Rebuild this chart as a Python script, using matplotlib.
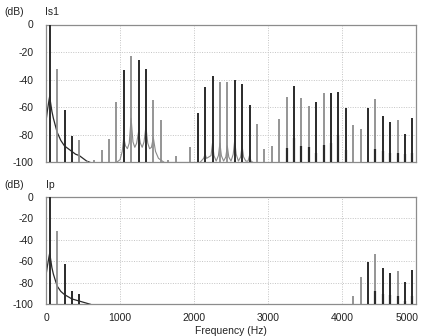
import matplotlib
matplotlib.use("Agg")
import matplotlib.pyplot as plt
from matplotlib.transforms import ScaledTranslation

# ---------------- data ----------------
# Is1 spectrum: harmonic lines (Hz, dB)
is1_dark_f = [50, 250, 350, 1050, 1250, 1350, 2050, 2150, 2250, 2550, 2650, 2750,
              3350, 3650, 3850, 3950, 4050, 4350, 4550, 4650, 4850, 4950]
is1_dark_db = [0, -62, -81, -33, -26, -32, -64, -45, -37, -40.5, -43, -58,
               -44.5, -56.5, -50, -49, -60.5, -60.5, -66.5, -71, -79, -68]
is1_gray_f = [150, 450, 550, 650, 750, 850, 950, 1150, 1450, 1550, 1650, 1750, 1950,
              2350, 2450, 2850, 2950, 3050, 3150, 3250, 3450, 3550, 3750, 4150, 4250,
              4450, 4750]
is1_gray_db = [-32, -84, -99, -98, -91, -83, -56, -23, -55, -69, -98, -95, -89,
               -41.5, -42, -72, -90, -88, -68.5, -52.5, -53, -59, -50, -73, -76,
               -54, -69.5]
# Is1 continuous spectrum (leakage floor)
is1_low_f = [0, 20, 40, 50, 60, 80, 100, 150, 200, 250, 300, 350, 400, 450, 500, 550, 600]
is1_low_db = [-70, -62, -55, -52, -56, -63, -68, -78, -84, -88, -90, -92, -94, -95, -97, -99, -100]
is1_side_f = [950, 1000, 1030, 1050, 1075, 1100, 1125, 1150, 1175, 1200, 1225, 1250, 1275,
              1300, 1325, 1350, 1375, 1400, 1425, 1450, 1480, 1520, 1600,
              2080, 2130, 2150, 2170, 2230, 2250, 2270, 2300, 2330, 2350, 2370, 2400,
              2430, 2450, 2470, 2500, 2530, 2550, 2570, 2600, 2630, 2650, 2670, 2700,
              2730, 2750, 2770, 2800]
is1_side_db = [-100, -98, -92, -82, -88, -90, -86, -68, -85, -89, -86, -78, -86,
               -89, -85, -74, -86, -90, -89, -82, -92, -97, -100,
               -100, -97, -94, -97, -95, -86, -95, -99, -95, -86, -95, -99,
               -96, -88, -96, -99, -94, -84, -94, -99, -96, -88, -96, -99,
               -99, -95, -99, -100]
# Is1 short stubs at the base of the upper harmonics
is1_stub_f = [3250, 3350, 3450, 3550, 3650, 3750, 3850, 3950, 4050,
              4450, 4550, 4650, 4750, 4850, 4950]
is1_stub_db = [-89.5, -82, -88, -89, -93, -87, -86, -80, -91,
               -90, -92, -93, -93, -94, -93]

# Ip spectrum
ip_dark_f = [50, 250, 350, 450, 4350, 4550, 4650, 4850, 4950]
ip_dark_db = [0, -63, -88, -90.5, -60.5, -66.5, -71, -79, -68]
ip_gray_f = [150, 4150, 4250, 4450, 4750]
ip_gray_db = [-32, -92, -74.5, -53.5, -69.5]
ip_low_f = [0, 20, 40, 50, 60, 80, 100, 150, 200, 250, 300, 350, 400, 450, 500, 550, 600]
ip_low_db = [-73, -64, -56, -52.5, -57, -66, -72, -83, -88, -91, -93, -95, -96, -97, -98, -99, -100]
ip_stub_f = [4450, 4550, 4650, 4750, 4850, 4950]
ip_stub_db = [-88, -90, -91, -92, -97, -92]

x_ticks = [0, 1000, 2000, 3000, 4000, 5000]
y_ticks = [0, -20, -40, -60, -80, -100]

# ---------------- drawing ----------------
plt.rcParams["font.family"] = ["Liberation Sans", "DejaVu Sans"]
plt.rcParams["font.size"] = 7.5

W, H = 421, 336
fig = plt.figure(figsize=(W / 100, H / 100), dpi=100)
ax1 = fig.add_axes([46 / W, 1 - 162.5 / H, 370 / W, 138 / H])
ax2 = fig.add_axes([46 / W, 1 - 304.3 / H, 370 / W, 107.6 / H])

DARK = "#2a2a2a"
GRAY = "#8c8c8c"
FLOOR_GRAY = "#8a8a8a"


def style(ax, show_x):
    ax.set_xlim(0, 5000)
    ax.set_ylim(-100, 0)
    ax.set_xticks(x_ticks)
    ax.set_yticks(y_ticks)
    ax.set_yticklabels([str(v) for v in y_ticks])
    ax.tick_params(length=0, pad=9, colors="#222222", labelsize=7.5)
    ax.tick_params(axis="x", pad=6)
    if not show_x:
        ax.set_xticklabels([])
    for s in ax.spines.values():
        s.set_color("#8c8c8c")
        s.set_linewidth(0.9)
    ax.grid(True, color="#c4c4c4", linestyle=(0, (1, 1.5)), linewidth=0.7)
    ax.set_axisbelow(True)


def spectrum(ax, dark_f, dark_db, gray_f, gray_db, low_f, low_db, stub_f, stub_db,
             side_f=None, side_db=None):
    ax.plot(low_f, low_db, color=DARK, lw=0.9, zorder=2)
    if side_f is not None:
        ax.plot(side_f, side_db, color=FLOOR_GRAY, lw=0.8, zorder=2)
    ax.vlines(gray_f, -100, gray_db, colors=GRAY, lw=1.3, zorder=3)
    ax.vlines(dark_f, -100, dark_db, colors=DARK, lw=1.4, zorder=4)
    ax.vlines(stub_f, -100, stub_db, colors=DARK, lw=1.6, zorder=5)


style(ax1, False)
style(ax2, True)
spectrum(ax1, is1_dark_f, is1_dark_db, is1_gray_f, is1_gray_db,
         is1_low_f, is1_low_db, is1_stub_f, is1_stub_db, is1_side_f, is1_side_db)
spectrum(ax2, ip_dark_f, ip_dark_db, ip_gray_f, ip_gray_db,
         ip_low_f, ip_low_db, ip_stub_f, ip_stub_db)

# shift the last x label so that it stays inside the figure
lab = ax2.get_xticklabels()[-1]
lab.set_transform(lab.get_transform() + ScaledTranslation(-9 / 100, 0, fig.dpi_scale_trans))

fig.text(14 / W, 1 - 12 / H, "(dB)", ha="center", va="center", fontsize=7.5, color="#222222")
fig.text(45 / W, 1 - 12 / H, "Is1", ha="left", va="center", fontsize=7.5, color="#222222")
fig.text(14 / W, 1 - 185 / H, "(dB)", ha="center", va="center", fontsize=7.5, color="#222222")
fig.text(46 / W, 1 - 185 / H, "Ip", ha="left", va="center", fontsize=7.5, color="#222222")
fig.text(231 / W, 1 - 331 / H, "Frequency (Hz)", ha="center", va="center", fontsize=7.5, color="#222222")

fig.savefig("out.png", dpi=100)
